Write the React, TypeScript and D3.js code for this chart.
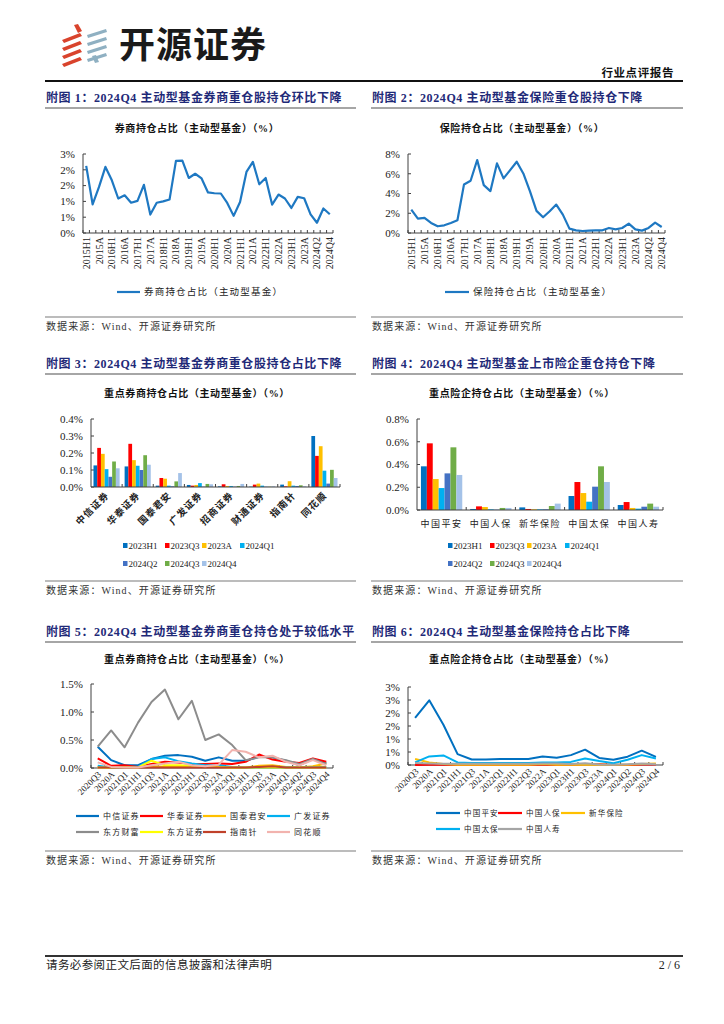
import React from "react";
import * as d3 from "d3";

// ---------- DATA ----------
const quarters39 = ["2015H1","2015Q3","2015A","2016Q1","2016H1","2016Q3","2016A","2017Q1","2017H1","2017Q3","2017A","2018Q1","2018H1","2018Q3","2018A","2019Q1","2019H1","2019Q3","2019A","2020Q1","2020H1","2020Q3","2020A","2021Q1","2021H1","2021Q3","2021A","2022Q1","2022H1","2022Q3","2022A","2023Q1","2023H1","2023Q3","2023A","2024Q1","2024Q2","2024Q3","2024Q4"];
const brokerShare = [2.55,1.09,1.75,2.51,2.0,1.31,1.43,1.15,1.22,1.83,0.70,1.15,1.2,1.27,2.74,2.75,2.09,2.25,2.07,1.54,1.51,1.5,1.14,0.65,1.18,2.32,2.70,1.85,2.09,1.08,1.46,1.31,0.95,1.37,1.32,0.71,0.39,0.93,0.71];
const insuranceShare = [2.37,1.46,1.53,1.02,0.68,0.78,1.02,1.29,4.92,5.29,7.39,4.85,4.24,7.05,5.53,6.37,7.22,6.03,4.24,2.24,1.59,2.2,2.88,1.86,0.44,0.27,0.2,0.24,0.27,0.27,0.51,0.37,0.51,0.95,0.37,0.24,0.51,1.05,0.61];
const ticks1 = [0,0.6,1.2,1.8,2.4,3.0];
const ticks2 = [0,2,4,6,8];

const periods = ["2023H1","2023Q3","2023A","2024Q1","2024Q2","2024Q3","2024Q4"];
const periodColors = ["#0070C0","#FF0000","#FFC000","#00B0F0","#4472C4","#70AD47","#A4C2E8"];
const brokerNames = ["中信证券","华泰证券","国泰君安","广发证券","招商证券","财通证券","指南针","同花顺"];
const brokerBars = [
  [0.127,0.23,0.195,0.105,0.06,0.15,0.11],
  [0.121,0.254,0.158,0.125,0.10,0.187,0.131],
  [0.008,0.053,0.049,0.008,0.004,0.033,0.082],
  [0.012,0.008,0.012,0.023,0.002,0.018,0.016],
  [0.004,0.016,0.006,0.006,0.002,0.006,0.018],
  [0.002,0.014,0.020,0.008,0.002,0.002,0.004],
  [0.014,0.004,0.034,0.008,0.006,0.010,0.004],
  [0.30,0.183,0.24,0.096,0.02,0.101,0.053],
];
const ticks3 = [0,0.1,0.2,0.3,0.4];
const insurerNames = ["中国平安","中国人保","新华保险","中国太保","中国人寿"];
const insurerBars = [
  [0.384,0.586,0.272,0.193,0.322,0.551,0.308],
  [0.009,0.032,0.026,0.006,0.003,0.018,0.018],
  [0.023,0.009,0.006,0.006,0.006,0.035,0.056],
  [0.123,0.246,0.149,0.073,0.205,0.384,0.246],
  [0.044,0.070,0.018,0.012,0.029,0.056,0.029],
];
const ticks4 = [0,0.2,0.4,0.6,0.8];

const quarters18 = ["2020Q3","2020A","2021Q1","2021H1","2021Q3","2021A","2022Q1","2022H1","2022Q3","2022A","2023Q1","2023H1","2023Q3","2023A","2024Q1","2024Q2","2024Q3","2024Q4"];
const brokerLineNames = ["中信证券","华泰证券","国泰君安","广发证券","东方财富","东方证券","指南针","同花顺"];
const brokerLineColors = ["#0070C0","#FF0000","#FFC000","#00B0F0","#8C8C8C","#FFFF00","#C0412A","#F2B3AE"];
const brokerLines = [
  [0.38,0.14,0.05,0.05,0.16,0.22,0.23,0.20,0.13,0.19,0.13,0.13,0.20,0.19,0.13,0.05,0.16,0.09],
  [0.17,0.04,0.05,0.02,0.07,0.11,0.10,0.07,0.07,0.08,0.07,0.11,0.24,0.15,0.11,0.09,0.17,0.11],
  [0.02,0.01,0.01,0.01,0.04,0.02,0.02,0.02,0.02,0.02,0.01,0.01,0.04,0.05,0.02,0.01,0.03,0.08],
  [0.04,0.01,0.01,0.02,0.16,0.19,0.12,0.08,0.05,0.05,0.02,0.01,0.01,0.01,0.02,0.01,0.02,0.02],
  [0.38,0.67,0.37,0.81,1.18,1.40,0.87,1.20,0.50,0.60,0.41,0.14,0.19,0.19,0.14,0.07,0.16,0.07],
  [0.01,0.01,0.02,0.01,0.13,0.05,0.05,0.04,0.02,0.02,0.01,0.01,0.01,0.01,0.01,0.01,0.01,0.01],
  [0.01,0.01,0.01,0.01,0.01,0.01,0.01,0.01,0.01,0.01,0.01,0.01,0.02,0.03,0.01,0.01,0.01,0.01],
  [0.10,0.02,0.01,0.01,0.05,0.08,0.11,0.05,0.03,0.06,0.32,0.29,0.19,0.22,0.11,0.05,0.14,0.05],
];
const ticks5 = [0,0.5,1.0,1.5];
const insurerLineNames = ["中国平安","中国人保","新华保险","中国太保","中国人寿"];
const insurerLineColors = ["#0070C0","#FF0000","#FFC000","#00B0F0","#A5A5A5"];
const insurerLines = [
  [1.81,2.49,1.55,0.42,0.21,0.21,0.23,0.23,0.23,0.33,0.28,0.38,0.59,0.27,0.20,0.32,0.55,0.31],
  [0.0,0.01,0.01,0.01,0.01,0.01,0.01,0.01,0.01,0.01,0.01,0.01,0.03,0.03,0.01,0.0,0.02,0.02],
  [0.23,0.10,0.04,0.01,0.01,0.01,0.01,0.01,0.01,0.04,0.01,0.02,0.01,0.01,0.01,0.01,0.04,0.06],
  [0.10,0.33,0.37,0.10,0.08,0.08,0.08,0.08,0.08,0.10,0.10,0.12,0.25,0.15,0.07,0.20,0.38,0.25],
  [0.08,0.06,0.05,0.05,0.05,0.05,0.05,0.05,0.05,0.06,0.06,0.04,0.07,0.02,0.01,0.03,0.06,0.03],
];
const ticks6 = [0,0.5,1.0,1.5,2.0,2.5,3.0];

// ---------- STYLE ----------
const SERIF = "'Liberation Serif','Times New Roman','Noto Sans CJK SC',serif";
const CJK = "'Noto Sans CJK SC','Noto Sans',sans-serif";
const NAVY = "#1F2A78";
const AXIS = "#404040";
const LINE_BLUE = "#1E78C2";

type LineProps = {
  x0: number; x1: number; yTop: number; yBot: number; max: number;
  ticks: number[]; fmt: (v: number) => string; cats: string[];
  series: number[][]; colors: string[]; labelEvery: number; rot: number;
  title: string; titleX: number; titleY: number; width?: number;
};

function LineChart(p: LineProps) {
  const x = d3.scalePoint<string>().domain(p.cats).range([p.x0, p.x1]).padding(0.5);
  const y = d3.scaleLinear().domain([0, p.max]).range([p.yBot, p.yTop]);
  const step = x.step();
  const line = d3.line<number>().x((_, i) => x(p.cats[i]) as number).y(d => y(d));
  return (
    <g>
      <text x={p.titleX} y={p.titleY} textAnchor="middle" fontFamily={SERIF} fontWeight="bold" fontSize={10} letterSpacing={0.6} fill="#111">{p.title}</text>
      {p.ticks.map(t => (
        <g key={t}>
          <line x1={p.x0} x2={p.x0 + 3} y1={y(t)} y2={y(t)} stroke={AXIS} />
          <text x={p.x0 - 8} y={y(t)} dy="0.35em" textAnchor="end" fontFamily={SERIF} fontSize={11} fill="#222">{p.fmt(t)}</text>
        </g>
      ))}
      <line x1={p.x0} x2={p.x0} y1={p.yTop} y2={p.yBot} stroke={AXIS} />
      <line x1={p.x0} x2={p.x1} y1={p.yBot} y2={p.yBot} stroke={AXIS} />
      {p.cats.map((c) => (
        <line key={"t" + c} x1={(x(c) as number) - step / 2} x2={(x(c) as number) - step / 2} y1={p.yBot} y2={p.yBot - 3} stroke={AXIS} />
      ))}
      <line x1={p.x1} x2={p.x1} y1={p.yBot} y2={p.yBot - 3} stroke={AXIS} />
      {p.cats.map((c, i) => i % p.labelEvery === 0 ? (
        p.rot === -90 ? (
          <text key={"l" + c} transform={`translate(${x(c)},${p.yBot + 4}) rotate(-90)`} textAnchor="end" dominantBaseline="central" fontFamily={SERIF} fontSize={10} fill="#222">{c}</text>
        ) : (
          <text key={"l" + c} transform={`translate(${(x(c) as number) + 4},${p.yBot + 7}) rotate(-45)`} textAnchor="end" fontFamily={SERIF} fontSize={9} fill="#222">{c}</text>
        )
      ) : null)}
      {p.series.map((s, k) => (
        <path key={"s" + k} d={line(s) || ""} fill="none" stroke={p.colors[k]} strokeWidth={p.width ?? 2} strokeLinejoin="round" />
      ))}
    </g>
  );
}

type BarProps = {
  x0: number; x1: number; yTop: number; yBot: number; max: number; ticks: number[];
  cats: string[]; data: number[][]; rotLabels: boolean; title: string; titleX: number; titleY: number;
};

function BarChart(p: BarProps) {
  const x = d3.scaleBand<string>().domain(p.cats).range([p.x0, p.x1]).paddingInner(0.16).paddingOuter(0.08);
  const xi = d3.scaleBand<string>().domain(periods).range([0, x.bandwidth()]);
  const y = d3.scaleLinear().domain([0, p.max]).range([p.yBot, p.yTop]);
  const step = x.step();
  return (
    <g>
      <text x={p.titleX} y={p.titleY} textAnchor="middle" fontFamily={SERIF} fontWeight="bold" fontSize={10} letterSpacing={0.6} fill="#111">{p.title}</text>
      {p.ticks.map(t => (
        <g key={t}>
          <line x1={p.x0} x2={p.x0 + 3} y1={y(t)} y2={y(t)} stroke={AXIS} />
          <text x={p.x0 - 8} y={y(t)} dy="0.35em" textAnchor="end" fontFamily={SERIF} fontSize={11} fill="#222">{t.toFixed(1) + "%"}</text>
        </g>
      ))}
      {p.cats.map((c, ci) => (
        <g key={c}>
          {p.data[ci].map((v, k) => (
            <rect key={k} x={(x(c) as number) + (xi(periods[k]) as number)} width={xi.bandwidth()} y={y(v)} height={p.yBot - y(v)} fill={periodColors[k]} />
          ))}
        </g>
      ))}
      <line x1={p.x0} x2={p.x0} y1={p.yTop} y2={p.yBot} stroke={AXIS} />
      <line x1={p.x0} x2={p.x1} y1={p.yBot} y2={p.yBot} stroke={AXIS} />
      {p.cats.map((c, i) => (
        <line key={"t" + c} x1={p.x0 + i * step + step} x2={p.x0 + i * step + step} y1={p.yBot} y2={p.yBot - 3} stroke={AXIS} />
      ))}
      {p.cats.map(c => {
        const cx = (x(c) as number) + x.bandwidth() / 2;
        return p.rotLabels ? (
          <text key={"l" + c} transform={`translate(${cx + 3},${p.yBot + 9}) rotate(-45)`} textAnchor="end" fontFamily={CJK} fontWeight="bold" fontSize={9.5} letterSpacing={1} fill="#222">{c}</text>
        ) : (
          <text key={"l" + c} x={cx} y={p.yBot + 17} textAnchor="middle" fontFamily={CJK} fontSize={9} letterSpacing={1.5} fill="#222">{c}</text>
        );
      })}
    </g>
  );
}

function SquareLegend({ xs, y1, y2 }: { xs: number[]; y1: number; y2: number }) {
  return (
    <g>
      {periods.map((p, i) => {
        const row = i < 4 ? 0 : 1;
        const cx = xs[row === 0 ? i : i - 4];
        const cy = row === 0 ? y1 : y2;
        return (
          <g key={p}>
            <rect x={cx} y={cy - 3} width={4.5} height={5} fill={periodColors[i]} />
            <text x={cx + 5.5} y={cy} dy="0.35em" fontFamily={SERIF} fontSize={9} fill="#222">{p}</text>
          </g>
        );
      })}
    </g>
  );
}

function LineLegend({ names, colors, cols, rows, len, fs }: { names: string[]; colors: string[]; cols: number[]; rows: number[]; len: number; fs: number }) {
  return (
    <g>
      {names.map((n, i) => {
        const cx = cols[i % cols.length];
        const cy = rows[Math.floor(i / cols.length)];
        return (
          <g key={n}>
            <line x1={cx} x2={cx + len} y1={cy} y2={cy} stroke={colors[i]} strokeWidth={2.2} />
            <text x={cx + len + 4} y={cy} dy="0.35em" fontFamily={CJK} fontSize={fs} letterSpacing={1.2} fill="#222">{n}</text>
          </g>
        );
      })}
    </g>
  );
}

function Panel({ x0, x1, titleY, sourceY, title }: { x0: number; x1: number; titleY: number; sourceY: number; title: string }) {
  return (
    <g>
      <text x={x0 + 1} y={titleY} fontFamily={SERIF} fontWeight="bold" fontSize={12} letterSpacing={0.6} fill={NAVY}>{title}</text>
      <line x1={x0} x2={x1} y1={titleY + 6} y2={titleY + 6} stroke="#A6A6A6" strokeWidth={2} />
      <line x1={x0} x2={x1} y1={sourceY} y2={sourceY} stroke="#A6A6A6" strokeWidth={1.5} />
      <text x={x0 + 1} y={sourceY + 13} fontFamily={SERIF} fontSize={10} letterSpacing={1.1} fill="#333">数据来源：Wind、开源证券研究所</text>
    </g>
  );
}

function Logo() {
  const red = [0, 1, 2, 3].map(i => {
    const y = 33 + i * 8;
    return `${62},${y + 7} ${80},${y} ${82},${y + 3} ${64},${y + 10}`;
  });
  const blue = [0, 1, 2, 3].map(i => {
    const y = 29 + i * 8;
    return `${87},${y + 6} ${106},${y} ${107},${y + 3} ${88},${y + 9}`;
  });
  return (
    <g>
      <polygon points="74,25 78,24 82,31 78,33" fill="#D9432C" />
      {red.map((pts, i) => <polygon key={"r" + i} points={pts} fill="#D9432C" />)}
      {blue.map((pts, i) => <polygon key={"b" + i} points={pts} fill="#8FB0C2" />)}
      <polygon points="92,56 96,55 99,62 95,63" fill="#8FB0C2" />
      <text x={119} y={58} fontFamily={CJK} fontWeight="bold" fontSize={36} letterSpacing={1} fill="#1A1A1A">开源证券</text>
    </g>
  );
}

export default function App() {
  const L0 = 45, L1 = 356, R0 = 371, R1 = 683;
  return (
    <svg width={724} height={1024} viewBox="0 0 724 1024" style={{ position: "absolute", left: 0, top: 0, background: "#fff" }}>
      <rect width={724} height={1024} fill="#fff" />
      <Logo />
      <text x={674} y={77} textAnchor="end" fontFamily={CJK} fontWeight="bold" fontSize={11.5} letterSpacing={0.6} fill="#111">行业点评报告</text>
      <line x1={L0} x2={R1} y1={81} y2={81} stroke="#111" strokeWidth={1.8} />

      <Panel x0={L0} x1={L1} titleY={102} sourceY={317} title="附图 1：2024Q4 主动型基金券商重仓股持仓环比下降" />
      <Panel x0={R0} x1={R1} titleY={102} sourceY={317} title="附图 2：2024Q4 主动型基金保险重仓股持仓下降" />
      <Panel x0={L0} x1={L1} titleY={368} sourceY={581} title="附图 3：2024Q4 主动型基金券商重仓股持仓占比下降" />
      <Panel x0={R0} x1={R1} titleY={368} sourceY={581} title="附图 4：2024Q4 主动型基金上市险企重仓持仓下降" />
      <Panel x0={L0} x1={L1} titleY={636} sourceY={851} title="附图 5：2024Q4 主动型基金券商重仓持仓处于较低水平" />
      <Panel x0={R0} x1={R1} titleY={636} sourceY={851} title="附图 6：2024Q4 主动型基金保险持仓占比下降" />

      <LineChart x0={83} x1={333} yTop={154} yBot={233} max={3} ticks={ticks1} fmt={v => Math.round(v) + "%"}
        cats={quarters39} series={[brokerShare]} colors={[LINE_BLUE]} labelEvery={2} rot={-90}
        title="券商持仓占比（主动型基金）（%）" titleX={197} titleY={132} width={2.2} />
      <LineLegend names={["券商持仓占比（主动型基金）"]} colors={[LINE_BLUE]} cols={[117]} rows={[292]} len={23} fs={9.5} />

      <LineChart x0={408} x1={665} yTop={154} yBot={233} max={8} ticks={ticks2} fmt={v => Math.round(v) + "%"}
        cats={quarters39} series={[insuranceShare]} colors={[LINE_BLUE]} labelEvery={2} rot={-90}
        title="保险持仓占比（主动型基金）（%）" titleX={522} titleY={132} width={2.2} />
      <LineLegend names={["保险持仓占比（主动型基金）"]} colors={[LINE_BLUE]} cols={[445]} rows={[292]} len={24} fs={9.5} />

      <BarChart x0={91} x1={340} yTop={419} yBot={487} max={0.4} ticks={ticks3} cats={brokerNames} data={brokerBars}
        rotLabels={true} title="重点券商持仓占比（主动型基金）（%）" titleX={197} titleY={397} />
      <SquareLegend xs={[123, 165, 202, 240]} y1={546} y2={564} />

      <BarChart x0={417} x1={663} yTop={419} yBot={510} max={0.8} ticks={ticks4} cats={insurerNames} data={insurerBars}
        rotLabels={false} title="重点险企持仓占比（主动型基金）（%）" titleX={522} titleY={397} />
      <SquareLegend xs={[448, 490, 527, 565]} y1={546} y2={564} />

      <LineChart x0={91} x1={333} yTop={684} yBot={768} max={1.5} ticks={ticks5} fmt={v => v.toFixed(1) + "%"}
        cats={quarters18} series={brokerLines} colors={brokerLineColors} labelEvery={1} rot={-45}
        title="重点券商持仓占比（主动型基金）（%）" titleX={197} titleY={663} width={2} />
      <LineLegend names={brokerLineNames} colors={brokerLineColors} cols={[76, 140, 203, 267]} rows={[816, 832]} len={23} fs={8} />

      <LineChart x0={408} x1={663} yTop={687} yBot={765} max={3} ticks={ticks6} fmt={v => Math.round(v) + "%"}
        cats={quarters18} series={insurerLines} colors={insurerLineColors} labelEvery={1} rot={-45}
        title="重点险企持仓占比（主动型基金）（%）" titleX={522} titleY={663} width={2} />
      <LineLegend names={insurerLineNames} colors={insurerLineColors} cols={[436, 498, 561]} rows={[813, 829]} len={24} fs={7.5} />

      <line x1={L0} x2={R1} y1={956} y2={956} stroke="#333" strokeWidth={2} />
      <text x={L0 + 1} y={969} fontFamily={CJK} fontSize={11.5} letterSpacing={0.4} fill="#222">请务必参阅正文后面的信息披露和法律声明</text>
      <text x={680} y={969} textAnchor="end" fontFamily={SERIF} fontSize={12} fill="#222">2 / 6</text>
    </svg>
  );
}
